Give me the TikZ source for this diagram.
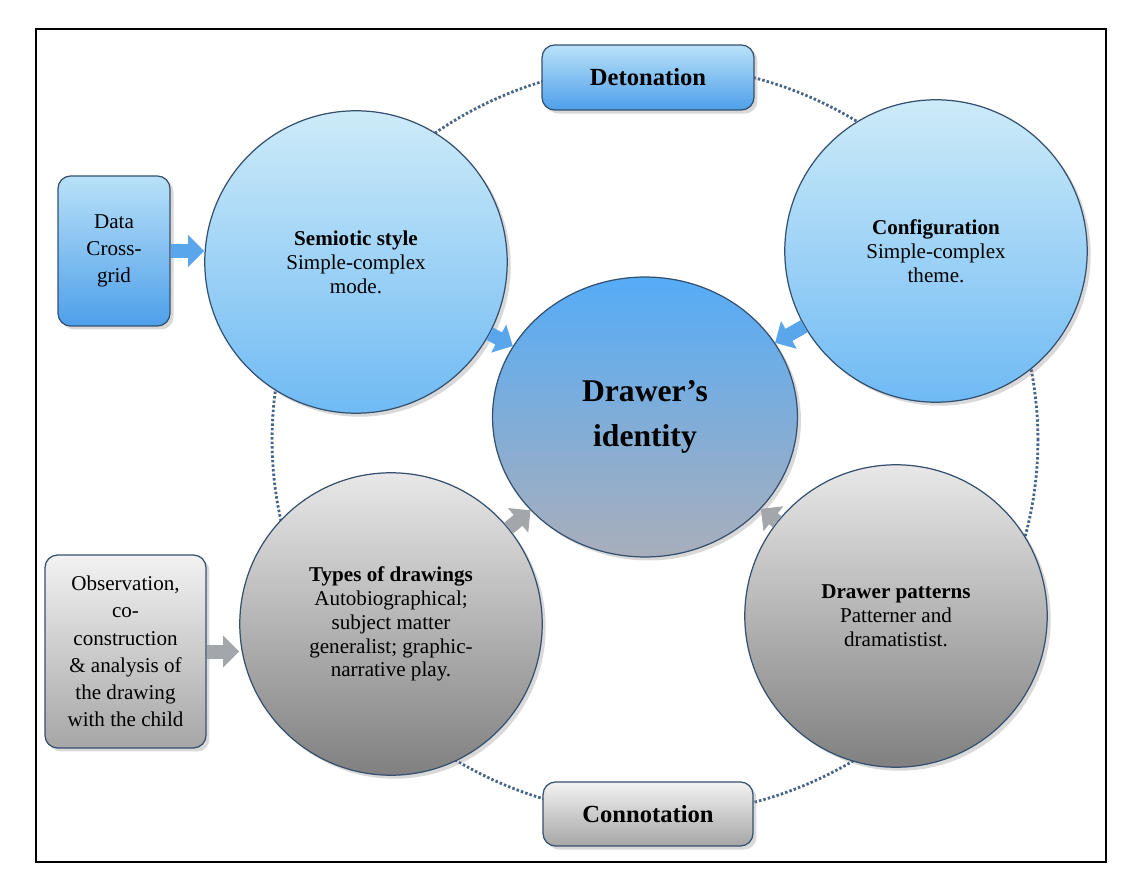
\documentclass[tikz,border=0pt]{standalone}
\usepackage{fontspec}
\setmainfont{Liberation Serif}
\usetikzlibrary{shapes,arrows.meta,shadows}
\usepackage{xcolor}

\definecolor{rimcol}{HTML}{34506E}
\definecolor{skytop}{HTML}{CDEBF8}
\definecolor{skybot}{HTML}{6FBAF4}
\definecolor{boxtop}{HTML}{B9E1F8}
\definecolor{boxbot}{HTML}{4E9FEA}
\definecolor{midtop}{HTML}{55ACF7}
\definecolor{midbot}{HTML}{A9AEBB}
\definecolor{greytop}{HTML}{E8E8E8}
\definecolor{greybot}{HTML}{808080}
\definecolor{gboxtop}{HTML}{F2F2F2}
\definecolor{gboxbot}{HTML}{A6A6A6}
\definecolor{arrowblue}{HTML}{5AA6EC}
\definecolor{arrowgrey}{HTML}{A3A6AA}
\definecolor{dotcol}{HTML}{44648A}

\tikzset{
  shade/.style={drop shadow={opacity=0.3, shadow xshift=2pt, shadow yshift=-2pt}},
  bluecirc/.style={circle, draw=rimcol, line width=0.7pt, minimum size=6.05cm,
    top color=skytop, bottom color=skybot, align=center, shade,
    font=\fontsize{12}{13.6}\selectfont},
  greycirc/.style={bluecirc, top color=greytop, bottom color=greybot},
  bluebox/.style={draw=rimcol, line width=0.7pt, rounded corners=0.25cm,
    top color=boxtop, bottom color=boxbot, align=center, shade},
  greybox/.style={bluebox, top color=gboxtop, bottom color=gboxbot},
  sidetext/.style={font=\fontsize{12}{15.5}\selectfont},
  tagtext/.style={font=\fontsize{14}{16}\selectfont\bfseries},
  fatarrow/.style={line width=0.28cm, -{Triangle[length=0.32cm,width=0.62cm]}},
  bluearrow/.style={fatarrow, arrowblue},
  greyarrow/.style={fatarrow, arrowgrey},
  ring/.style={dotcol, line width=1.6pt, dash pattern=on 1.4pt off 1.2pt}
}

\begin{document}
\begin{tikzpicture}[x=0.02cm, y=-0.02cm]
      \useasboundingbox (0,0) rectangle (1134,875);
      \draw [line width=0.8pt] (36,29) rectangle (1106,862);

      % dotted ring behind the circles
      \draw [ring] (655,440) ellipse [x radius=7.66cm, y radius=7.5cm];

      % tags on the ring
      \node [bluebox, tagtext, minimum width=4.24cm, minimum height=1.3cm] (deton) at (648,77.5) {Detonation};
      \node [greybox, tagtext, minimum width=4.2cm, minimum height=1.28cm] (conno) at (648,814) {Connotation};

      % circles
      \node [bluecirc] (semio) at (356,262) {\textbf{Semiotic style}\\Simple-complex\\mode.};
      \node [bluecirc] (config) at (936,251) {\textbf{Configuration}\\Simple-complex\\theme.};
      \node [greycirc] (types) at (391,624) {\textbf{Types of drawings}\\Autobiographical;\\subject matter\\generalist; graphic-\\narrative play.};
      \node [greycirc] (patterns) at (896,616) {\textbf{Drawer patterns}\\Patterner and\\dramatistist.};
      \node [bluecirc, ellipse, minimum width=6.1cm, minimum height=5.6cm,
        top color=midtop, bottom color=midbot,
        font=\fontsize{18}{26}\selectfont\bfseries] (ident) at (645,417) {Drawer’s\\identity};

      % side boxes
      \node [bluebox, sidetext, minimum width=2.24cm, minimum height=3cm] (data) at (114,251) {Data\\Cross-\\grid};
      \node [greybox, sidetext, minimum width=3.22cm, minimum height=3.86cm] (observ) at (125.5,651.5) {Observation,\\co-\\construction\\\& analysis of\\the drawing\\with the child};

      % arrows
      \draw [bluearrow] (data.east) -- (data.east -| semio.west);
      \draw [greyarrow] (observ.east) -- (observ.east -| types.west);
      \draw [bluearrow] (semio) -- (ident);
      \draw [bluearrow] (config) -- (ident);
      \draw [greyarrow] (types) -- (ident);
      \draw [greyarrow] (patterns) -- (ident);
\end{tikzpicture}
\end{document}
